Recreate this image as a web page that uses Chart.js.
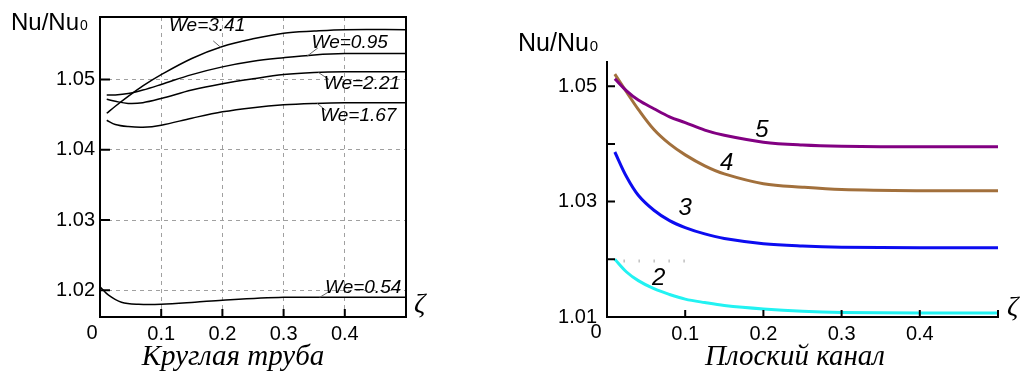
<!DOCTYPE html>
<html>
<head>
<meta charset="utf-8">
<script src="https://cdn.jsdelivr.net/npm/chart.js@4/dist/chart.umd.min.js"></script>
<style>
body { margin: 0; background: #fff; width: 1029px; height: 373px; overflow: hidden; position: relative; }
#w1 { position: absolute; left: 0; top: 0; }
#w2 { position: absolute; left: 500px; top: 0; }
</style>
</head>
<body>
<div id="w1"><canvas id="tube" width="430" height="373"></canvas></div>
<div id="w2"><canvas id="channel" width="529" height="373"></canvas></div>
<script>
// Круглая труба
var zetaTube = [0.011, 0.025, 0.046, 0.07, 0.1, 0.15, 0.2, 0.25, 0.3, 0.35, 0.4, 0.5];
var we341 = [1.0452, 1.0462, 1.0476, 1.0491, 1.0507, 1.0530, 1.0547, 1.0558, 1.0566, 1.0569, 1.0571, 1.0571];
var we095 = [1.0478, 1.0478, 1.0480, 1.0485, 1.0493, 1.0507, 1.0518, 1.0526, 1.0531, 1.0535, 1.0537, 1.0537];
var we221 = [1.0472, 1.0469, 1.0466, 1.0467, 1.0473, 1.0485, 1.0494, 1.0501, 1.0507, 1.0510, 1.0511, 1.0511];
var we167 = [1.0442, 1.0436, 1.0433, 1.0432, 1.0435, 1.0445, 1.0454, 1.0460, 1.0464, 1.0466, 1.0467, 1.0467];
var zetaTube054 = [0, 0.014, 0.035, 0.063, 0.1, 0.155, 0.2, 0.3, 0.4, 0.5];
var we054 = [1.0205, 1.0193, 1.0183, 1.0180, 1.0180, 1.0183, 1.0186, 1.0190, 1.0190, 1.0190];
var tubeXTicks = [0, 0.1, 0.2, 0.3, 0.4];
var tubeYTicks = [1.02, 1.03, 1.04, 1.05];

// Плоский канал
var zetaChannel = [0.01, 0.025, 0.04, 0.06, 0.08, 0.1, 0.125, 0.15, 0.2, 0.25, 0.3, 0.4, 0.5];
var curve5 = [1.0513, 1.0492, 1.0476, 1.0461, 1.0447, 1.0437, 1.0424, 1.0415, 1.0403, 1.0398, 1.0396, 1.0395, 1.0395];
var curve4 = [1.0521, 1.0490, 1.0460, 1.0425, 1.0400, 1.0381, 1.0362, 1.0348, 1.0331, 1.0325, 1.0321, 1.0319, 1.0319];
var curve3 = [1.0386, 1.0343, 1.0311, 1.0285, 1.0267, 1.0255, 1.0244, 1.0236, 1.0227, 1.0223, 1.0221, 1.0220, 1.0220];
var curve2 = [1.0200, 1.0178, 1.0163, 1.0149, 1.0139, 1.0131, 1.0125, 1.0120, 1.0114, 1.0110, 1.0108, 1.0107, 1.0107];
var zetaStub = [0.021, 0.102];
var stub = [1.0197, 1.0197];
var channelXTicks = [0, 0.1, 0.2, 0.3, 0.4, 0.5];
var channelYTicks = [1.01, 1.02, 1.03, 1.04, 1.05];
var channelYLabels = [1.01, 1.03, 1.05];

// подписи кривых
var tubeLabels = [
    { text: 'We=3.41', at: [0.175, 1.0576], from: [0.185, 1.0555], to: [0.197, 1.0546] },
    { text: 'We=0.95', at: [0.408, 1.0552], from: [0.338, 1.0533], to: [0.356, 1.0545] },
    { text: 'We=2.21', at: [0.428, 1.0494], from: [0.357, 1.0510], to: [0.374, 1.0500] },
    { text: 'We=1.67', at: [0.422, 1.0449], from: [0.355, 1.0466], to: [0.369, 1.0456] },
    { text: 'We=0.54', at: [0.430, 1.0204], from: [0.359, 1.0190], to: [0.376, 1.0199] }
];
var channelLabels = [
    { text: '5', at: [0.198, 1.0424] },
    { text: '4', at: [0.153, 1.0367] },
    { text: '3', at: [0.100, 1.0289] },
    { text: '2', at: [0.066, 1.0167] }
];

var SANS = "'Liberation Sans', Arial, sans-serif";
var SERIF = "'Liberation Serif', 'Times New Roman', serif";

function pts(xs, ys) {
    return xs.map(function(x, i) { return { x: x, y: ys[i] }; });
}

function curve(data, color, width) {
    return {
        data: data,
        borderColor: color,
        backgroundColor: 'transparent',
        borderWidth: width,
        pointRadius: 0,
        tension: 0.35
    };
}

function drawTitle(ctx, x, y, size) {
    ctx.fillStyle = '#000';
    ctx.textAlign = 'left';
    ctx.textBaseline = 'alphabetic';
    ctx.font = size + 'px ' + SANS;
    ctx.fillText('Nu/Nu', x, y);
    var w = ctx.measureText('Nu/Nu').width;
    ctx.font = Math.round(size * 0.6) + 'px ' + SANS;
    ctx.fillText('0', x + w + 1, y);
}

var tubeDecor = {
    id: 'tubeDecor',
    afterDraw: function(chart) {
        var ctx = chart.ctx, a = chart.chartArea, xs = chart.scales.x, ys = chart.scales.y;
        ctx.save();
        ctx.strokeStyle = '#000';
        ctx.lineWidth = 2;
        ctx.strokeRect(a.left, a.top, a.right - a.left, a.bottom - a.top);
        ctx.beginPath();
        tubeYTicks.forEach(function(v) {
            var y = ys.getPixelForValue(v);
            ctx.moveTo(a.left, y); ctx.lineTo(a.left + 10, y);
        });
        tubeXTicks.forEach(function(v) {
            if (v === 0) return;
            var x = xs.getPixelForValue(v);
            ctx.moveTo(x, a.bottom); ctx.lineTo(x, a.bottom - 8);
        });
        ctx.stroke();

        // выноски
        ctx.strokeStyle = '#666';
        ctx.lineWidth = 1;
        ctx.font = 'italic 19px ' + SANS;
        ctx.fillStyle = '#000';
        ctx.textAlign = 'center';
        ctx.textBaseline = 'middle';
        tubeLabels.forEach(function(l) {
            ctx.beginPath();
            ctx.moveTo(xs.getPixelForValue(l.from[0]), ys.getPixelForValue(l.from[1]));
            ctx.lineTo(xs.getPixelForValue(l.to[0]), ys.getPixelForValue(l.to[1]));
            ctx.stroke();
            ctx.fillText(l.text, xs.getPixelForValue(l.at[0]), ys.getPixelForValue(l.at[1]));
        });

        ctx.font = '20px ' + SANS;
        ctx.fillText('0', xs.getPixelForValue(0) - 8, a.bottom + 16);
        ctx.font = 'italic 28px ' + SERIF;
        ctx.textAlign = 'left';
        ctx.fillText('\u03B6', a.right + 8, a.bottom - 12);
        ctx.font = 'italic 29px ' + SERIF;
        ctx.textAlign = 'center';
        ctx.fillText('Круглая труба', 233, 357);
        drawTitle(ctx, 11, 30, 24);
        ctx.restore();
    }
};

var channelDecor = {
    id: 'channelDecor',
    afterDraw: function(chart) {
        var ctx = chart.ctx, a = chart.chartArea, xs = chart.scales.x, ys = chart.scales.y;
        ctx.save();
        ctx.strokeStyle = '#000';
        ctx.lineWidth = 2;
        ctx.beginPath();
        channelYTicks.forEach(function(v) {
            if (v === 1.01) return;
            var y = ys.getPixelForValue(v);
            ctx.moveTo(a.left, y); ctx.lineTo(a.left + 8, y);
        });
        channelXTicks.forEach(function(v) {
            if (v === 0) return;
            var x = xs.getPixelForValue(v);
            ctx.moveTo(x, a.bottom); ctx.lineTo(x, a.bottom - 7);
        });
        ctx.stroke();

        ctx.fillStyle = '#000';
        ctx.font = 'italic 24px ' + SANS;
        ctx.textAlign = 'center';
        ctx.textBaseline = 'middle';
        channelLabels.forEach(function(l) {
            ctx.fillText(l.text, xs.getPixelForValue(l.at[0]), ys.getPixelForValue(l.at[1]));
        });

        ctx.font = '20px ' + SANS;
        ctx.fillText('0', xs.getPixelForValue(0) - 11, a.bottom + 15);
        ctx.font = 'italic 28px ' + SERIF;
        ctx.textAlign = 'left';
        ctx.fillText('\u03B6', a.right + 9, a.bottom - 9);
        ctx.font = 'italic 29px ' + SERIF;
        ctx.textAlign = 'center';
        ctx.fillText('Плоский канал', 295, 357);
        drawTitle(ctx, 18, 51, 25);
        ctx.restore();
    }
};

var tubeChart = new Chart(document.getElementById('tube'), {
    type: 'line',
    data: {
        datasets: [
            curve(pts(zetaTube, we341), '#000', 1.5),
            curve(pts(zetaTube, we095), '#000', 1.5),
            curve(pts(zetaTube, we221), '#000', 1.5),
            curve(pts(zetaTube, we167), '#000', 1.5),
            curve(pts(zetaTube054, we054), '#000', 1.5)
        ]
    },
    options: {
        responsive: false,
        animation: false,
        layout: { padding: { top: 13, right: 24, left: 0, bottom: 0 } },
        plugins: { legend: { display: false }, tooltip: { enabled: false } },
        scales: {
            x: {
                type: 'linear',
                min: 0,
                max: 0.5,
                afterBuildTicks: function(s) { s.ticks = tubeXTicks.map(function(v) { return { value: v }; }); },
                afterFit: function(s) { s.height = 56; },
                grid: { color: '#a0a0a0', lineWidth: 1, drawTicks: false },
                border: { display: false, dash: [4, 4] },
                ticks: {
                    padding: 5, autoSkip: false, maxRotation: 0, color: '#000',
                    font: { family: SANS, size: 20 },
                    callback: function(v) { return v === 0 ? '' : String(v); }
                }
            },
            y: {
                min: 1.0162,
                max: 1.0589,
                afterBuildTicks: function(s) { s.ticks = tubeYTicks.map(function(v) { return { value: v }; }); },
                afterFit: function(s) { s.width = 100; },
                grid: { color: '#a0a0a0', lineWidth: 1, drawTicks: false },
                border: { display: false, dash: [4, 4] },
                ticks: {
                    padding: 5, color: '#000',
                    font: { family: SANS, size: 20 },
                    callback: function(v) { return v.toFixed(2); }
                }
            }
        }
    },
    plugins: [tubeDecor]
});

var stubSet = curve(pts(zetaStub, stub), '#c0c0c0', 3);
stubSet.borderDash = [1.5, 13.5];

var channelChart = new Chart(document.getElementById('channel'), {
    type: 'line',
    data: {
        datasets: [
            stubSet,
            curve(pts(zetaChannel, curve5), '#820082', 3),
            curve(pts(zetaChannel, curve4), '#a2703c', 3),
            curve(pts(zetaChannel, curve3), '#0c0cf0', 3),
            curve(pts(zetaChannel, curve2), '#22f2f2', 3)
        ]
    },
    options: {
        responsive: false,
        animation: false,
        layout: { padding: { top: 62, right: 31, left: 0, bottom: 0 } },
        plugins: { legend: { display: false }, tooltip: { enabled: false } },
        scales: {
            x: {
                type: 'linear',
                min: 0,
                max: 0.5,
                afterBuildTicks: function(s) { s.ticks = channelXTicks.map(function(v) { return { value: v }; }); },
                afterFit: function(s) { s.height = 56; },
                grid: { display: false, drawTicks: false },
                border: { display: true, color: '#000', width: 2 },
                ticks: {
                    padding: 5, autoSkip: false, maxRotation: 0, color: '#000',
                    font: { family: SANS, size: 20 },
                    callback: function(v) { return (v === 0 || v === 0.5) ? '' : String(v); }
                }
            },
            y: {
                min: 1.01,
                max: 1.0542,
                afterBuildTicks: function(s) { s.ticks = channelYTicks.map(function(v) { return { value: v }; }); },
                afterFit: function(s) { s.width = 107; },
                grid: { display: false, drawTicks: false },
                border: { display: true, color: '#000', width: 2 },
                ticks: {
                    padding: 10, color: '#000',
                    font: { family: SANS, size: 20 },
                    callback: function(v) {
                        return channelYLabels.some(function(l) { return Math.abs(l - v) < 1e-6; }) ? v.toFixed(2) : '';
                    }
                }
            }
        }
    },
    plugins: [channelDecor]
});
</script>
</body>
</html>
